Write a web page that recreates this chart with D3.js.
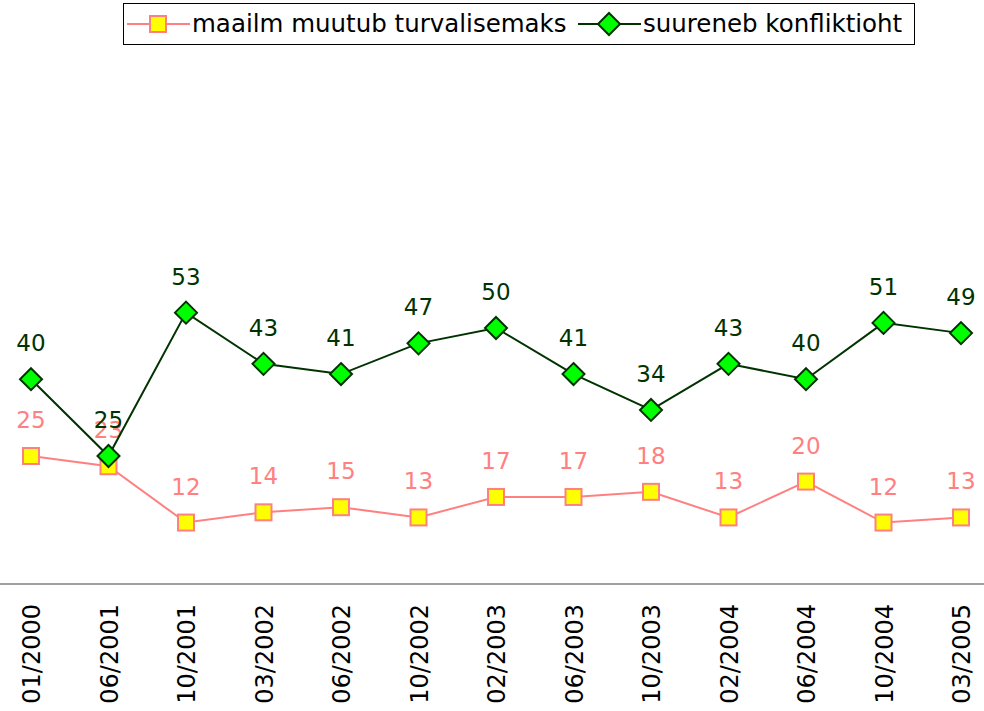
<!DOCTYPE html>
<html>
<head>
<meta charset="utf-8">
<script src="https://cdn.jsdelivr.net/npm/d3@7"></script>
<style>
  body { margin: 0; background: #fff; }
  svg { display: block; }
</style>
</head>
<body>
<div id="chart"></div>
<script>
var categories = ["01/2000","06/2001","10/2001","03/2002","06/2002","10/2002","02/2003","06/2003","10/2003","02/2004","06/2004","10/2004","03/2005"];
var safer = [25, 23, 12, 14, 15, 13, 17, 17, 18, 13, 20, 12, 13];
var conflict = [40, 25, 53, 43, 41, 47, 50, 41, 34, 43, 40, 51, 49];
var seriesNames = ["maailm muutub turvalisemaks", "suureneb konfliktioht"];

var width = 984, height = 711;

var svg = d3.select("#chart").append("svg")
    .attr("width", width)
    .attr("height", height);

var x = d3.scalePoint()
    .domain(categories)
    .range([31, 961]);

var y = d3.scaleLinear()
    .domain([0, 100])
    .range([584, 72]);

// x axis line + rotated labels
svg.append("line")
    .attr("x1", 0).attr("x2", width)
    .attr("y1", y(0)).attr("y2", y(0))
    .attr("stroke", "#808080")
    .attr("stroke-width", 1.5);

svg.selectAll(".xlab")
    .data(categories)
    .enter().append("text")
    .attr("class", "xlab")
    .attr("transform", function(d) { return "translate(" + (x(d) + 9) + "," + 604 + ") rotate(-90)"; })
    .attr("text-anchor", "end")
    .style("font-family", "DejaVu Sans, Verdana, sans-serif")
    .style("font-size", "24px")
    .attr("fill", "#000")
    .text(function(d) { return d; });

var line = d3.line()
    .x(function(d, i) { return x(categories[i]); })
    .y(function(d) { return y(d); });

var series = [
  {name: seriesNames[0], values: safer, stroke: "#ff8080", fill: "#ffff00", label: "#ff8080", shape: "square"},
  {name: seriesNames[1], values: conflict, stroke: "#003300", fill: "#00ff00", label: "#003300", shape: "diamond"}
];

function marker(g, s, cx, cy) {
  if (s.shape == "square") {
    g.append("rect")
      .attr("x", cx - 8).attr("y", cy - 8)
      .attr("width", 16).attr("height", 16)
      .attr("fill", s.fill)
      .attr("stroke", s.stroke)
      .attr("stroke-width", 2);
  } else {
    g.append("path")
      .attr("d", "M" + cx + "," + (cy - 11) + "L" + (cx + 11) + "," + cy + "L" + cx + "," + (cy + 11) + "L" + (cx - 11) + "," + cy + "Z")
      .attr("fill", s.fill)
      .attr("stroke", s.stroke)
      .attr("stroke-width", 2);
  }
}

series.forEach(function(s) {
  var g = svg.append("g");
  g.append("path")
    .datum(s.values)
    .attr("d", line)
    .attr("fill", "none")
    .attr("stroke", s.stroke)
    .attr("stroke-width", 2);
  s.values.forEach(function(v, i) {
    marker(g, s, x(categories[i]), y(v));
  });
  g.selectAll(".vlab")
    .data(s.values)
    .enter().append("text")
    .attr("x", function(d, i) { return x(categories[i]); })
    .attr("y", function(d) { return y(d) - 28; })
    .attr("text-anchor", "middle")
    .style("font-family", "DejaVu Sans, Verdana, sans-serif")
    .style("font-size", "23px")
    .attr("fill", s.label)
    .text(function(d) { return d; });
});

// legend
var leg = svg.append("g");
leg.append("rect")
  .attr("x", 123.5).attr("y", 3.5)
  .attr("width", 791).attr("height", 41)
  .attr("fill", "#fff")
  .attr("stroke", "#000")
  .attr("stroke-width", 1);

var legX = [127, 578];
series.forEach(function(s, i) {
  var lx = legX[i];
  leg.append("line")
    .attr("x1", lx).attr("x2", lx + 63)
    .attr("y1", 24).attr("y2", 24)
    .attr("stroke", s.stroke)
    .attr("stroke-width", 2);
  marker(leg, s, lx + 31, 24);
  leg.append("text")
    .attr("x", lx + 65)
    .attr("y", 32)
    .style("font-family", "DejaVu Sans, Verdana, sans-serif")
    .style("font-size", "24.5px")
    .attr("fill", "#000")
    .text(s.name);
});
</script>
</body>
</html>
